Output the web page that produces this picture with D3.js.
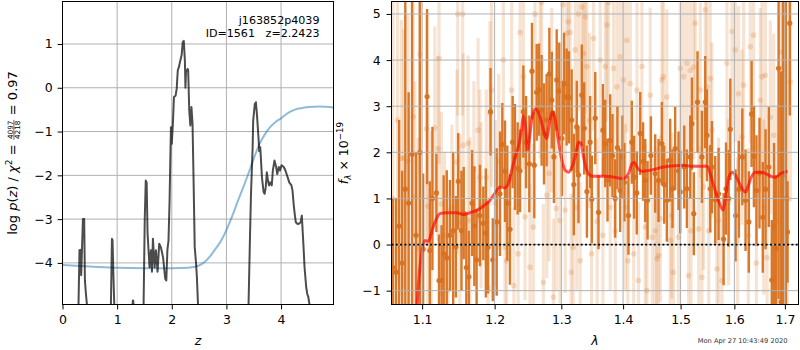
<!DOCTYPE html>
<html>
<head>
<meta charset="utf-8">
<script src="https://cdn.jsdelivr.net/npm/d3@7/dist/d3.min.js"></script>
<style>
  html, body { margin: 0; padding: 0; background: #fff; }
  svg { display: block; }
  text { font-family: "DejaVu Sans", sans-serif; }
</style>
</head>
<body>
<svg id="fig" width="800" height="350"></svg>
<script>
// ---------- redshift probability panel ----------
// log p(z), values below the plotted range are kept at -7
const pzZ = [
  0.28,0.293,0.311,0.325,0.342,0.374,0.397,0.41,0.422,0.434,0.447,0.46,
  0.87,0.886,0.905,0.916,0.93,0.947,0.96,
  1.27,1.282,1.288,1.294,1.30,1.31,
  1.47,1.484,1.506,1.524,1.54,1.557,1.593,1.619,1.637,1.655,1.686,1.71,1.74,1.77,1.80,1.84,1.88,1.90,1.92,1.94,1.96,1.975,1.985,2.00,2.02,2.04,2.07,2.09,2.11,2.13,2.15,2.18,2.20,2.22,2.24,2.25,2.26,2.29,2.30,2.32,2.34,2.36,2.38,2.40,2.42,2.445,2.46,2.48,2.50,
  3.38,3.405,3.43,3.45,3.48,3.49,3.52,3.54,3.56,3.59,3.60,3.62,3.65,3.68,3.70,3.72,3.74,3.76,3.78,3.80,3.83,3.85,3.88,3.91,3.93,3.96,3.98,4.01,4.05,4.08,4.12,4.15,4.19,4.21,4.23,4.25,4.27,4.29,4.32,4.36,4.38,4.41,4.43,4.46,4.48,4.50,4.52,4.54
];
const pzLogP = [
  -7,-4.95,-3.71,-3.70,-4.28,-3.0,-3.0,-4.4,-4.6,-4.78,-4.95,-7,
  -7,-4.95,-3.45,-3.48,-4.2,-4.95,-7,
  -7,-4.95,-4.86,-4.86,-4.95,-7,
  -7,-4.95,-2.96,-2.12,-2.16,-3.33,-4.1,-3.71,-4.2,-3.45,-4.1,-3.71,-4.2,-3.56,-3.64,-3.87,-4.36,-4.4,-3.7,-3.49,-2.57,-1.51,-0.9,-1.28,-0.82,-0.21,-0.18,-0.02,0.40,0.47,0.59,0.74,1.04,1.07,0.62,0.0,0.36,0.43,0.40,-0.52,-0.86,-0.44,-0.82,-2.19,-3.64,-4.02,-4.33,-4.95,-7,
  -7,-4.95,-3.49,-2.42,-1.36,-0.75,-0.37,-0.33,-0.63,-1.2,-1.45,-1.36,-2.04,-2.38,-2.42,-2.27,-1.93,-2.12,-2.23,-2.16,-2.23,-1.89,-1.66,-1.81,-1.97,-1.81,-1.89,-1.77,-1.81,-1.89,-2.04,-2.16,-2.23,-2.35,-2.65,-2.88,-3.07,-3.1,-3.11,-3.07,-2.92,-3.6,-4.1,-4.55,-4.71,-4.78,-4.95,-7
];
// smooth reference curve
const priorZ    = [0,0.5,1.0,1.5,2.0,2.3,2.5,2.6,2.7,2.8,2.9,3.0,3.1,3.2,3.3,3.4,3.5,3.6,3.7,3.8,3.9,4.0,4.1,4.2,4.3,4.4,4.5,4.7,4.96];
const priorLogP = [-4.05,-4.08,-4.11,-4.12,-4.12,-4.11,-4.06,-3.98,-3.85,-3.68,-3.5,-3.25,-2.95,-2.62,-2.3,-1.97,-1.62,-1.3,-1.07,-0.9,-0.78,-0.7,-0.6,-0.53,-0.48,-0.46,-0.44,-0.43,-0.45];
const zTicks = [0,1,2,3,4];
const logpTicks = [-4,-3,-2,-1,0,1];

// ---------- spectrum panel ----------
const darkWave = [
  1.0620,1.0660,1.0700,1.0740,1.0780,1.0823,1.0868,1.0920,1.0970,1.1013,
  1.1066,1.1102,1.1137,1.1190,1.1225,1.1260,1.1288,1.1330,1.1373,1.1418,
  1.1455,1.1487,1.1532,1.1563,1.1599,1.1634,1.1680,1.1711,1.1743,1.1790,
  1.1838,1.1874,1.1905,1.1941,1.1973,1.2030,1.2078,1.2111,1.2150,1.2184,
  1.2223,1.2262,1.2296,1.2336,1.2372,1.2421,1.2461,1.2510,1.2550,1.2585,
  1.2621,1.2656,1.2696,1.2732,1.2772,1.2814,1.2852,1.2885,1.2928,1.2968,
  1.3008,1.3043,1.3083,1.3120,1.3162,1.3196,1.3243,1.3270,1.3323,1.3362,
  1.3405,1.3457,1.3484,1.3540,1.3593,1.3665,1.3703,1.3741,1.3785,1.3823,
  1.3867,1.3905,1.3951,1.3989,1.4022,1.4090,1.4147,1.4186,1.4232,1.4291,
  1.4340,1.4377,1.4417,1.4475,1.4550,1.4608,1.4667,1.4708,1.4755,1.4814,
  1.4855,1.4903,1.4963,1.4994,1.5066,1.5114,1.5175,1.5206,1.5240,1.5308,
  1.5389,1.5450,1.5483,1.5544,1.5575,1.5637,1.5700,1.5795,1.5840,1.5890,
  1.5922,1.6023,1.6087,1.6153,1.6216,1.6280,1.6334,1.6380,1.6430,1.6490,
  1.6555,1.6610,1.6675,1.6735,1.6780,1.6820,1.6872,1.6920,1.6960,1.7054,
  1.7100,1.7020
];
const darkFlux = [
  -0.5,-0.6,0.4,-0.4,1.2,0.9,1.96,0.2,2.0,-0.1,
  3.21,-0.13,1.0,1.12,-0.78,-0.78,-0.2,-0.29,0.2,0.3,
  -0.05,1.37,0.3,0.68,-0.5,-0.70,0.9,0.4,-0.33,0.63,
  0.46,0.25,-0.06,2.88,-0.33,0.49,1.1,2.17,1.59,0.9,
  0.33,2.22,1.9,1.65,1.6,2.88,2.22,1.75,3.76,1.72,
  3.3,3.36,2.91,2.4,2.7,3.70,3.13,1.9,3.57,3.33,
  2.3,3.49,3.2,3.19,2.7,1.3,2.55,1.51,3.24,2.52,
  1.15,2.22,0.98,2.74,0.70,2.48,2.19,1.4,2.26,1.93,
  1.0,2.1,1.17,1.9,1.35,0.63,2.22,1.46,1.12,2.41,
  1.8,1.39,0.96,1.93,1.54,1.39,2.19,1.3,0.96,1.83,
  1.21,2.08,1.6,1.14,1.68,1.21,1.9,2.62,0.67,3.09,
  1.9,3.09,2.37,1.21,1.68,0.97,1.1,0.12,1.21,1.0,
  2.5,0.63,1.2,1.9,0.96,0.49,2.83,1.91,1.17,1.55,
  0.59,1.2,1.68,-0.77,0.4,-0.09,3.82,-1.24,1.5,0.27,
  4.8,1.0
];
const darkErr = [
  1.5,1.6,2.3,2.0,4.5,2.4,3.5,1.8,4.0,1.64,
  1.9,1.5,1.55,0.85,1.0,1.2,1.7,1.9,1.2,1.7,
  1.1,1.05,1.3,1.0,1.2,1.0,1.15,1.3,1.1,1.1,
  0.8,1.4,1.0,0.95,0.9,1.6,1.35,0.9,1.1,1.25,
  1.2,1.0,1.15,1.0,0.9,1.0,1.0,1.05,1.05,1.15,
  1.05,1.0,1.2,1.1,1.0,1.0,1.05,1.0,1.1,1.05,
  1.25,1.1,1.05,1.0,1.1,1.1,1.0,1.05,1.1,1.0,
  1.0,1.0,0.95,1.0,0.8,1.0,0.95,0.9,1.0,0.9,
  0.85,0.9,0.9,0.9,0.85,0.85,0.9,0.9,0.9,0.9,
  0.85,0.9,0.85,0.85,0.85,0.9,0.9,0.85,0.9,0.9,
  0.85,0.9,0.85,0.9,0.9,0.85,0.9,1.0,0.9,1.1,
  1.0,1.0,1.0,0.95,1.0,0.95,1.0,1.0,1.0,1.05,
  1.1,1.0,1.05,1.05,1.1,1.1,1.15,1.1,1.2,1.2,
  1.2,1.3,1.3,1.3,1.8,1.6,5.0,5.0,4.5,1.1,
  2.0,4.5
];

const lightWave = [
  1.0620,1.0680,1.0730,1.0760,1.0816,1.0881,1.0904,1.0948,1.0970,1.1058,
  1.1075,1.1120,1.1168,1.1212,1.1225,1.1257,1.1300,1.1345,1.1400,1.1470,
  1.1480,1.1510,1.1548,1.1555,1.1623,1.1650,1.1705,1.1764,1.1790,1.1805,
  1.1880,1.1905,1.1933,1.1956,1.2010,1.2060,1.2126,1.2150,1.2174,1.2247,
  1.2281,1.2343,1.2372,1.2421,1.2446,1.2520,1.2570,1.2596,1.2672,1.2697,
  1.2722,1.2774,1.2810,1.2851,1.2877,1.2920,1.2979,1.3026,1.3060,1.3085,
  1.3111,1.3138,1.3154,1.3186,1.3218,1.3243,1.3270,1.3297,1.3323,1.3350,
  1.3377,1.3404,1.3446,1.3480,1.3511,1.3570,1.3621,1.3665,1.3703,1.3731,
  1.3758,1.3785,1.3840,1.3870,1.3897,1.3951,1.4007,1.4040,1.4063,1.4080,
  1.4120,1.4180,1.4235,1.4262,1.4320,1.4377,1.4406,1.4463,1.4500,1.4550,
  1.4579,1.4608,1.4640,1.4667,1.4695,1.4755,1.4814,1.4840,1.4873,1.4963,
  1.4994,1.5054,1.5114,1.5144,1.5175,1.5190,1.5236,1.5266,1.5330,1.5359,
  1.5390,1.5420,1.5452,1.5483,1.5515,1.5544,1.5575,1.5669,1.5700,1.5763,
  1.5858,1.5890,1.5953,1.6017,1.6060,1.6081,1.6147,1.6179,1.6270,1.6309,
  1.6374,1.6428,1.6507,1.6540,1.6575,1.6606,1.6640,1.6706,1.6774,1.6840,
  1.6909,1.6977,1.7050,1.7113
];
const lightFlux = [
  1.0,2.7,1.87,1.87,1.80,2.77,1.04,-0.09,4.13,2.51,
  0.83,0.46,2.53,2.08,4.04,0.88,0.2,-1.0,0.8,1.79,
  5.0,0.49,5.0,2.15,2.2,0.52,1.64,2.48,1.46,0.85,
  1.46,-0.93,2.84,3.35,0.9,1.8,4.0,-0.06,-0.35,3.35,
  -0.89,-0.2,4.6,3.64,0.6,-0.49,0.38,5.0,3.86,5.25,
  -0.82,1.07,1.54,3.13,-1.14,0.78,0.52,5.2,0.75,4.58,
  4.83,4.6,-0.6,-0.06,4.22,0.81,5.0,-0.35,5.15,4.14,
  4.94,3.86,2.69,-0.2,4.47,0.5,4.0,0.2,3.86,4.76,
  5.25,0.81,3.82,0.3,3.42,4.07,3.57,0.81,4.43,-0.35,
  3.49,-0.2,3.35,-0.78,3.86,0.38,-1.0,3.24,0.16,0.30,
  -0.31,-0.24,0.56,3.57,3.64,3.2,0.09,0.63,-0.6,0.16,
  3.82,3.64,3.93,-0.67,3.78,0.3,3.85,4.8,0.34,3.35,
  -0.71,1.25,5.09,3.42,0.3,3.6,2.48,-0.53,0.52,-0.78,
  3.93,0.92,4.62,4.22,0.09,3.27,2.33,3.46,0.2,4.29,
  4.54,-0.4,3.13,3.64,0.81,3.67,-0.28,2.76,2.37,0.5,
  4.18,3.85,1.0,3.53
];
const lightErr = [
  4.5,3.5,3.0,2.8,3.2,2.6,2.5,2.4,2.6,2.5,
  2.2,2.0,2.2,2.0,2.3,2.0,1.8,1.8,1.8,2.0,
  2.2,1.9,2.2,2.0,1.9,1.8,1.9,2.0,1.9,1.8,
  1.9,1.7,2.0,2.1,1.8,1.9,2.0,1.8,1.7,2.0,
  1.7,1.8,2.1,2.0,1.8,1.8,1.8,2.2,2.0,2.2,
  1.7,1.8,1.9,2.0,1.7,1.8,1.8,2.2,1.8,2.1,
  2.1,2.0,1.7,1.8,2.0,1.8,2.1,1.7,2.2,2.0,
  2.1,2.0,1.9,1.7,2.0,1.8,2.0,1.7,2.0,2.1,
  2.2,1.8,2.0,1.7,1.9,2.0,1.9,1.8,2.0,1.7,
  1.9,1.7,1.9,1.7,2.0,1.8,1.7,1.9,1.7,1.8,
  1.7,1.7,1.8,1.9,1.9,1.9,1.7,1.8,1.7,1.7,
  2.0,1.9,2.0,1.7,2.0,1.8,2.0,2.1,1.8,1.9,
  1.7,1.8,2.2,1.9,1.8,2.0,1.9,1.8,1.8,1.8,
  2.0,1.8,2.1,2.0,1.8,1.9,1.9,2.0,1.9,2.1,
  2.1,1.9,2.0,2.0,1.9,2.1,2.0,2.1,2.2,2.5,
  2.5,2.6,3.0,2.6
];

// best-fit template
const modelWave = [
  1.0900,1.0934,1.0992,1.1036,1.1080,1.1146,1.1237,1.1327,1.1465,1.1556,
  1.1650,1.1744,1.1838,1.1933,1.2030,1.2078,1.2150,1.2199,1.2249,1.2298,
  1.2346,1.2396,1.2421,1.2461,1.2481,1.2520,1.2555,1.2606,1.2672,1.2733,
  1.2774,1.2814,1.2860,1.2902,1.2953,1.3008,1.3060,1.3113,1.3167,1.3218,
  1.3270,1.3308,1.3350,1.3404,1.3457,1.3511,1.3730,1.3897,1.3998,1.4092,
  1.4150,1.4190,1.4235,1.4320,1.4464,1.4697,1.4937,1.5057,1.5178,1.5423,
  1.5486,1.5579,1.5673,1.5749,1.5787,1.5831,1.5894,1.5960,1.6023,1.6087,
  1.6153,1.6216,1.6262,1.6328,1.6413,1.6512,1.6612,1.6712,1.6813,1.6915,
  1.7054
];
const modelFlux = [
  -2.5,-1.3,-0.2,0.09,0.07,0.38,0.67,0.69,0.69,0.65,
  0.69,0.74,0.83,0.96,1.17,1.25,1.23,1.33,1.61,1.90,
  2.12,2.51,2.80,2.44,2.05,2.4,2.78,2.94,2.77,2.44,
  2.30,2.62,2.88,2.73,2.26,1.83,1.61,1.57,1.68,1.90,
  2.22,2.20,1.90,1.61,1.50,1.48,1.48,1.45,1.43,1.54,
  1.75,1.78,1.68,1.59,1.61,1.68,1.71,1.72,1.70,1.70,
  1.70,1.39,1.03,0.81,0.75,1.03,1.46,1.57,1.50,1.35,
  1.21,1.14,1.25,1.46,1.57,1.57,1.54,1.48,1.46,1.54,
  1.59
];
const waveTicks = [1.1,1.2,1.3,1.4,1.5,1.6,1.7];
const fluxTicks = [-1,0,1,2,3,4,5];

const objName = "j163852p4039";
const objId = 1561;
const zBest = "2.2423";
const chi2Num = 4097, chi2Den = 4218, chi2Red = "0.97";
const stamp = "Mon Apr 27 10:43:49 2020";

// ---------- drawing ----------
const svg = d3.select("#fig");
const defs = svg.append("defs");
const TICK_FONT = 12.5;
const GRID = "#b0b0b0";
const ORANGE = "#d8711f";

const L = {x0: 62.5, x1: 333.5, y0: 1.5, y1: 304.5};
const R = {x0: 391.5, x1: 798.5, y0: 1.5, y1: 304.5};

const zx = d3.scaleLinear().domain([0, 4.96]).range([L.x0, L.x1]);
const py = d3.scaleLinear().domain([-4.95, 1.97]).range([L.y1, L.y0]);
const wx = d3.scaleLog().domain([1.0603, 1.728]).range([R.x0, R.x1]);
const fy = d3.scaleLinear().domain([-1.30, 5.27]).range([R.y1, R.y0]);

function clip(id, b) {
  defs.append("clipPath").attr("id", id).append("rect")
    .attr("x", b.x0).attr("y", b.y0).attr("width", b.x1 - b.x0).attr("height", b.y1 - b.y0);
}
clip("clipL", L);
clip("clipR", R);

function grid(g, b, xs, xt, ys, yt) {
  const gg = g.append("g").attr("stroke", GRID).attr("stroke-width", 1);
  gg.selectAll("line.v").data(xt).join("line").attr("class", "v")
    .attr("x1", d => xs(d)).attr("x2", d => xs(d)).attr("y1", b.y0).attr("y2", b.y1);
  gg.selectAll("line.h").data(yt).join("line").attr("class", "h")
    .attr("y1", d => ys(d)).attr("y2", d => ys(d)).attr("x1", b.x0).attr("x2", b.x1);
}

function styleAxis(g) {
  g.attr("font-size", TICK_FONT).attr("font-family", '"DejaVu Sans", sans-serif');
  g.select(".domain").remove();
  g.selectAll(".tick line").attr("stroke", "#000").attr("stroke-width", 1);
  g.selectAll(".tick text").attr("fill", "#000");
}

// ----- left panel -----
const gL = svg.append("g");
grid(gL, L, zx, zTicks, py, logpTicks);
const plotL = gL.append("g").attr("clip-path", "url(#clipL)");

const priorIdx = d3.range(priorZ.length);
plotL.append("path")
  .attr("d", d3.line().curve(d3.curveMonotoneX).x(i => zx(priorZ[i])).y(i => py(priorLogP[i]))(priorIdx))
  .attr("fill", "none").attr("stroke", "#1f77b4").attr("stroke-opacity", 0.5).attr("stroke-width", 2);

const pzIdx = d3.range(pzZ.length);
plotL.append("path")
  .attr("d", d3.line().x(i => zx(pzZ[i])).y(i => py(pzLogP[i]))(pzIdx))
  .attr("fill", "none").attr("stroke", "#000").attr("stroke-opacity", 0.7).attr("stroke-width", 2)
  .attr("stroke-linejoin", "round");

gL.append("g").attr("transform", `translate(0,${L.y1})`)
  .call(d3.axisBottom(zx).tickValues(zTicks).tickSize(4.9).tickPadding(6).tickFormat(d3.format("d")))
  .call(styleAxis);
gL.append("g").attr("transform", `translate(${L.x0},0)`)
  .call(d3.axisLeft(py).tickValues(logpTicks).tickSize(4.9).tickPadding(4.9).tickFormat(d3.format("d")))
  .call(styleAxis);

gL.append("rect").attr("x", L.x0).attr("y", L.y0).attr("width", L.x1 - L.x0).attr("height", L.y1 - L.y0)
  .attr("fill", "none").attr("stroke", "#000").attr("stroke-width", 1);

// object annotation
const ann = gL.append("text").attr("text-anchor", "end").attr("font-size", 11.1).attr("fill", "#000")
  .style("white-space", "pre");
ann.append("tspan").attr("x", 319.5).attr("y", 24.3).text(objName);
ann.append("tspan").attr("x", 319.5).attr("y", 37.3).text(`ID=${objId}   z=${zBest}`);

// x label
gL.append("text").attr("x", (L.x0 + L.x1) / 2).attr("y", 345).attr("text-anchor", "middle")
  .attr("font-size", TICK_FONT).attr("font-style", "italic").text("z");

// y label: log p(z) / chi^2 = num/den = red
{
  const g = gL.append("g").attr("transform", "translate(16.5,0) rotate(-90)");
  const fs = 13;
  const t1 = g.append("text").attr("font-size", fs).attr("y", 0).style("white-space", "pre");
  t1.append("tspan").text("log ");
  t1.append("tspan").attr("font-style", "italic").text("p");
  t1.append("tspan").text("(");
  t1.append("tspan").attr("font-style", "italic").text("z");
  t1.append("tspan").text(") / ");
  t1.append("tspan").attr("font-style", "italic").text("\u03c7");
  t1.append("tspan").attr("font-size", fs * 0.7).attr("dy", -5).text("2");
  t1.append("tspan").attr("dy", 5).text(" = ");
  const w1 = t1.node().getComputedTextLength();
  const ffs = fs * 0.56;
  const num = g.append("text").attr("font-size", ffs).attr("y", -3.8).attr("text-anchor", "middle").text(chi2Num);
  const den = g.append("text").attr("font-size", ffs).attr("y", 3.8).attr("text-anchor", "middle").text(chi2Den);
  const wf = Math.max(num.node().getComputedTextLength(), den.node().getComputedTextLength()) + 1.5;
  num.attr("x", w1 + wf / 2 + 0.5);
  den.attr("x", w1 + wf / 2 + 0.5);
  g.append("line").attr("x1", w1 + 0.5).attr("x2", w1 + wf + 0.5).attr("y1", -2.6).attr("y2", -2.6)
    .attr("stroke", "#000").attr("stroke-width", 0.6);
  const t3 = g.append("text").attr("font-size", fs).attr("x", w1 + wf + 1).attr("y", 0)
    .style("white-space", "pre").text(" = " + chi2Red);
  const total = w1 + wf + 1 + t3.node().getComputedTextLength();
  g.attr("transform", `translate(16.5,${153 + total / 2}) rotate(-90)`);
}

// ----- right panel -----
const gR = svg.append("g");
const plotR = gR.append("g").attr("clip-path", "url(#clipR)");

// faint error bars
const lightIdx = d3.range(lightWave.length);
plotR.append("g").attr("stroke", ORANGE).attr("stroke-opacity", 0.2).attr("stroke-width", 3.2)
  .selectAll("line").data(lightIdx).join("line")
  .attr("x1", i => wx(lightWave[i])).attr("x2", i => wx(lightWave[i]))
  .attr("y1", i => fy(lightFlux[i] - lightErr[i])).attr("y2", i => fy(lightFlux[i] + lightErr[i]));
plotR.append("g").attr("fill", ORANGE).attr("fill-opacity", 0.22)
  .selectAll("circle").data(lightIdx).join("circle")
  .attr("cx", i => wx(lightWave[i])).attr("cy", i => fy(lightFlux[i])).attr("r", 2.8);

// strong error bars
const darkIdx = d3.range(darkWave.length);
plotR.append("g").attr("stroke", ORANGE).attr("stroke-opacity", 0.95).attr("stroke-width", 2.4)
  .selectAll("line").data(darkIdx).join("line")
  .attr("x1", i => wx(darkWave[i])).attr("x2", i => wx(darkWave[i]))
  .attr("y1", i => fy(darkFlux[i] - darkErr[i])).attr("y2", i => fy(darkFlux[i] + darkErr[i]));
plotR.append("g").attr("fill", ORANGE).attr("fill-opacity", 0.95)
  .selectAll("circle").data(darkIdx).join("circle")
  .attr("cx", i => wx(darkWave[i])).attr("cy", i => fy(darkFlux[i])).attr("r", 2.6);

grid(gR, R, wx, waveTicks, fy, fluxTicks);

const modelIdx = d3.range(modelWave.length);
plotR.append("path")
  .attr("d", d3.line().curve(d3.curveMonotoneX).x(i => wx(modelWave[i])).y(i => fy(modelFlux[i]))(modelIdx))
  .attr("fill", "none").attr("stroke", "#ff0000").attr("stroke-opacity", 0.65).attr("stroke-width", 3)
  .attr("stroke-linejoin", "round");

// zero level
gR.append("line").attr("x1", R.x0).attr("x2", R.x1).attr("y1", fy(0)).attr("y2", fy(0))
  .attr("stroke", "#000").attr("stroke-width", 1.8).attr("stroke-dasharray", "2,2.3");

gR.append("g").attr("transform", `translate(0,${R.y1})`)
  .call(d3.axisBottom(wx).tickValues(waveTicks).tickSize(4.9).tickPadding(6).tickFormat(d3.format(".1f")))
  .call(styleAxis);
gR.append("g").attr("transform", `translate(${R.x0},0)`)
  .call(d3.axisLeft(fy).tickValues(fluxTicks).tickSize(4.9).tickPadding(6).tickFormat(d3.format("d")))
  .call(styleAxis);

gR.append("rect").attr("x", R.x0).attr("y", R.y0).attr("width", R.x1 - R.x0).attr("height", R.y1 - R.y0)
  .attr("fill", "none").attr("stroke", "#000").attr("stroke-width", 1);

gR.append("text").attr("x", (R.x0 + R.x1) / 2).attr("y", 345).attr("text-anchor", "middle")
  .attr("font-size", TICK_FONT).attr("font-style", "italic").text("\u03bb");

// y label: f_lambda x 10^-19
{
  const g = gR.append("g").attr("transform", "translate(348,153) rotate(-90)");
  const t = g.append("text").attr("font-size", TICK_FONT).attr("text-anchor", "middle");
  t.append("tspan").attr("font-style", "italic").text("f");
  t.append("tspan").attr("font-size", TICK_FONT * 0.7).attr("font-style", "italic").attr("dy", 3).text("\u03bb");
  t.append("tspan").attr("dy", -3).text(" \u00d7 10");
  t.append("tspan").attr("font-size", TICK_FONT * 0.7).attr("dy", -5.5).text("\u221219");
}

// timestamp
svg.append("text").attr("x", 787.5).attr("y", 342.5).attr("text-anchor", "end")
  .attr("font-size", 6.7).attr("fill", "#333").text(stamp);
</script>
</body>
</html>
